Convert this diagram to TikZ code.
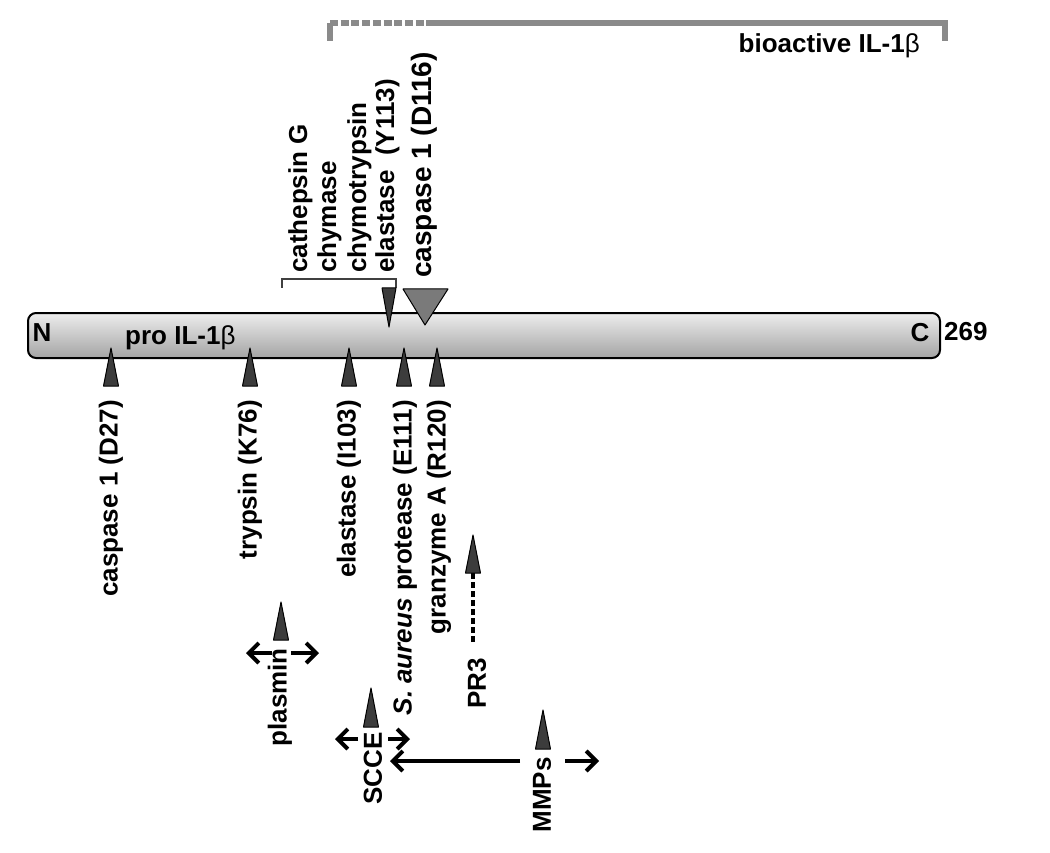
\documentclass[tikz,border=0pt]{standalone}
\usepackage{fontspec}
\setmainfont{Liberation Sans}
\usetikzlibrary{arrows.meta}
\definecolor{cutgray}{HTML}{3C3C3C}
\definecolor{bigcut}{HTML}{7A7A7A}
\definecolor{fraggray}{HTML}{8A8A8A}
\definecolor{barlight}{HTML}{EDEDED}
\definecolor{bardark}{HTML}{A4A4A4}
\newcommand\betasym{{\mdseries β}}
\tikzset{
  lab/.style={font=\bfseries\fontsize{26}{29}\selectfont, inner sep=0pt},
  vlab/.style={lab, rotate=90},
  cut/.style={fill=cutgray, draw=black, line width=1pt, line join=round},
  spread/.style={line width=4pt, -{Straight Barb[length=10pt,width=20pt]}},
}
\begin{document}
\begin{tikzpicture}[x=1pt,y=-1pt]
  \useasboundingbox (0,0) rectangle (1050,853);
  % bioactive fragment
  \draw[line width=6pt, fraggray, dash pattern=on 8pt off 2.7pt] (330,23) -- (426,23);
  \draw[line width=6pt, fraggray] (330,41) -- (330,23) (426,23) -- (945,23) -- (945,41);
  \node[lab, anchor=east] (bioact) at (920,46) {bioactive IL-1\betasym};
  % pro IL-1b chain
  \node[draw=black, line width=2pt, rounded corners=8pt, top color=barlight,
        bottom color=bardark, minimum width=912pt, minimum height=45pt,
        inner sep=0pt] (bar) at (484,335.5) {};
  \node[lab] (nterm) at (42,333) {N};
  \node[lab, anchor=west] (pro) at (125,338) {pro IL-1\betasym};
  \node[lab] (cterm) at (920,333) {C};
  \node[lab, anchor=west] (len) at (944,332) {269};
  % sites above the chain
  \draw[line width=2.5pt, black!75] (282,288) -- (282,279) -- (396,279) -- (396,288);
  \filldraw[cut] (389,327) -- (396,288) -- (382,288) -- cycle;
  \filldraw[cut, fill=bigcut] (425,325) -- (448,289) -- (403,289) -- cycle;
  \node[vlab, anchor=base west] (cathG) at (307,273) {cathepsin G};
  \node[vlab, anchor=base west] (chym) at (336,273) {chymase};
  \node[vlab, anchor=base west] (chymo) at (366,273) {chymotrypsin};
  \node[vlab, anchor=base west] (elaY) at (394,273) {elastase~~(Y113)};
  \node[vlab, anchor=west, font=\bfseries\fontsize{28}{30}\selectfont] (casp116) at (424,278) {caspase 1 (D116)};
  % sites below the chain
  \filldraw[cut] (111,348) -- (118.5,386) -- (103.5,386) -- cycle;
  \filldraw[cut] (250,348) -- (257.5,386) -- (242.5,386) -- cycle;
  \filldraw[cut] (349,348) -- (356.5,386) -- (341.5,386) -- cycle;
  \filldraw[cut] (404,348) -- (411.5,386) -- (396.5,386) -- cycle;
  \filldraw[cut] (437,348) -- (444.5,386) -- (429.5,386) -- cycle;
  \node[vlab, anchor=east] (casp27) at (111,400) {caspase 1 (D27)};
  \node[vlab, anchor=east] (tryp) at (250,400) {trypsin (K76)};
  \node[vlab, anchor=east] (elaI) at (349,400) {elastase (I103)};
  \node[vlab, anchor=east] (saur) at (405,400) {\textit{S. aureus} protease (E111)};
  \node[vlab, anchor=east] (granz) at (439,400) {granzyme A (R120)};
  % PR3
  \coordinate (pr3a) at (473,642);
  \coordinate (pr3b) at (473,573);
  \draw[line width=3.5pt, dash pattern=on 6pt off 3pt] (pr3a) -- (pr3b);
  \filldraw[cut] (473,535) -- (480.5,573) -- (465.5,573) -- cycle;
  \node[vlab, anchor=east] (pr3) at (477,658) {PR3};
  % plasmin
  \filldraw[cut] (281,602) -- (288.5,640) -- (273.5,640) -- cycle;
  \node[vlab, anchor=east] (plas) at (280,648) {plasmin};
  \coordinate (plasLa) at (272,653);
  \coordinate (plasLb) at (246,653);
  \coordinate (plasRa) at (291,653);
  \coordinate (plasRb) at (319,653);
  \draw[spread] (plasLa) -- (plasLb);
  \draw[spread] (plasRa) -- (plasRb);
  % SCCE
  \filldraw[cut] (371,688) -- (378.5,727) -- (363.5,727) -- cycle;
  \node[vlab, anchor=east] (scce) at (373,732) {SCCE};
  \coordinate (scceLa) at (358,739);
  \coordinate (scceLb) at (335,739);
  \coordinate (scceRa) at (388,739);
  \coordinate (scceRb) at (410,739);
  \draw[spread] (scceLa) -- (scceLb);
  \draw[spread] (scceRa) -- (scceRb);
  % MMPs
  \filldraw[cut] (543,710) -- (550.5,749) -- (535.5,749) -- cycle;
  \node[vlab, anchor=east] (mmp) at (542,757) {MMPs};
  \coordinate (mmpLa) at (520,761);
  \coordinate (mmpLb) at (390,761);
  \coordinate (mmpRa) at (565,761);
  \coordinate (mmpRb) at (599,761);
  \draw[spread] (mmpLa) -- (mmpLb);
  \draw[spread] (mmpRa) -- (mmpRb);
\end{tikzpicture}
\end{document}
